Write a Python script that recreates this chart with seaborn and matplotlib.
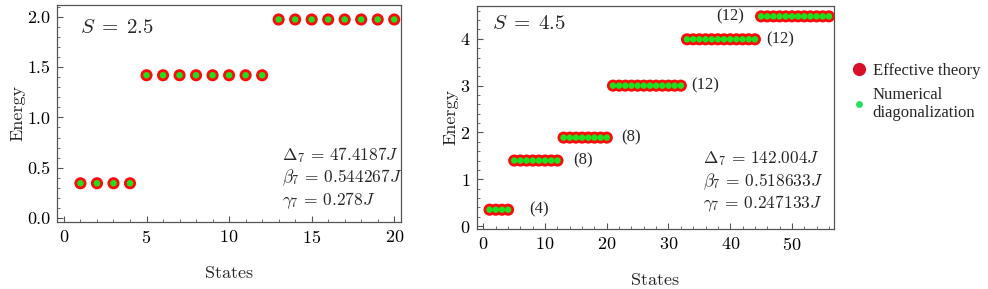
import numpy as np
import pandas as pd
import seaborn as sns
import matplotlib
matplotlib.use("Agg")
import matplotlib.pyplot as plt
from matplotlib.ticker import MultipleLocator, FormatStrFormatter
from matplotlib.lines import Line2D

# ---------------- data ----------------
# S = 2.5 : degeneracies and energy levels
levels_s25 = [0.345, 1.42, 1.975]
degen_s25 = [4, 8, 8]
# S = 4.5
levels_s45 = [0.35, 1.40, 1.89, 3.0, 3.99, 4.48]
degen_s45 = [4, 8, 8, 12, 12, 12]
deg_labels_s45 = ["(4)", "(8)", "(8)", "(12)", "(12)", "(12)"]
deg_label_x = [9.1, 16.2, 24.0, 35.9, 48.1, 40.0]

params_s25 = [r"$\Delta_7 \,=\, 47.4187J$", r"$\beta_7 \,=\, 0.544267J$", r"$\gamma_7 \,=\, 0.278J$"]
params_s45 = [r"$\Delta_7 \,=\, 142.004J$", r"$\beta_7 \,=\, 0.518633J$", r"$\gamma_7 \,=\, 0.247133J$"]
legend_labels = ["Effective theory", "Numerical\ndiagonalization"]


def make_df(levels, degen):
    energy = np.repeat(levels, degen)
    states = np.arange(1, len(energy) + 1)
    return pd.DataFrame({"States": states, "Energy": energy})


df25 = make_df(levels_s25, degen_s25)
df45 = make_df(levels_s45, degen_s45)

# ---------------- style ----------------
sns.set_style("ticks")
plt.rcParams["font.family"] = ["cmr10", "DejaVu Serif"]
plt.rcParams["mathtext.fontset"] = "cm"
plt.rcParams["axes.formatter.use_mathtext"] = True
plt.rcParams["axes.unicode_minus"] = False

RED = "#FF0A0A"
GREEN = "#1EE01E"
SPINE = "#555555"
FS = 13

fig = plt.figure(figsize=(9.88, 2.89), dpi=100)
ax1 = fig.add_axes([0.0577, 0.232, 0.348, 0.751])
ax2 = fig.add_axes([0.483, 0.208, 0.361, 0.771])


def draw(ax, df, xpad):
    sns.scatterplot(data=df, x="States", y="Energy", ax=ax, s=76, color=RED,
                    edgecolor="none", linewidth=0, legend=False, zorder=2)
    sns.scatterplot(data=df, x="States", y="Energy", ax=ax, s=22, color=GREEN,
                    edgecolor="none", linewidth=0, legend=False, zorder=3)
    for sp in ax.spines.values():
        sp.set_visible(True)
        sp.set_color(SPINE)
        sp.set_linewidth(0.9)
    ax.tick_params(which="both", direction="in", colors=SPINE, labelcolor="black",
                   labelsize=FS, top=False, right=False)
    ax.tick_params(which="major", length=4, width=0.8, pad=5)
    ax.tick_params(which="minor", length=2.2, width=0.6)
    ax.set_xlabel("States", fontsize=FS, labelpad=xpad)
    ax.set_ylabel("Energy", fontsize=FS, labelpad=1)


draw(ax1, df25, 14)
ax1.set_xlim(-0.42, 20.4)
ax1.set_ylim(-0.04, 2.12)
ax1.xaxis.set_major_locator(MultipleLocator(5))
ax1.xaxis.set_minor_locator(MultipleLocator(1))
ax1.yaxis.set_major_locator(MultipleLocator(0.5))
ax1.yaxis.set_minor_locator(MultipleLocator(0.1))
ax1.yaxis.set_major_formatter(FormatStrFormatter("%.1f"))
ax1.text(0.067, 0.894, r"$S\;=\;2.5$", transform=ax1.transAxes, fontsize=15,
         va="center", ha="left")
for txt, yy in zip(params_s25, [0.309, 0.203, 0.097]):
    ax1.text(0.654, yy, txt, transform=ax1.transAxes, fontsize=12.5,
             va="center", ha="left")

draw(ax2, df45, 14)
ax2.set_xlim(-1.0, 56.8)
ax2.set_ylim(-0.06, 4.7)
ax2.xaxis.set_major_locator(MultipleLocator(10))
ax2.xaxis.set_minor_locator(MultipleLocator(2))
ax2.yaxis.set_major_locator(MultipleLocator(1))
ax2.yaxis.set_minor_locator(MultipleLocator(0.2))
ax2.text(0.042, 0.919, r"$S\;=\;4.5$", transform=ax2.transAxes, fontsize=15,
         va="center", ha="left")
for txt, yy in zip(params_s45, [0.314, 0.211, 0.112]):
    ax2.text(0.633, yy, txt, transform=ax2.transAxes, fontsize=12.5,
             va="center", ha="left")
for lab, lx, ly in zip(deg_labels_s45, deg_label_x, levels_s45):
    ax2.text(lx, ly, lab, fontsize=12, va="center", ha="center",
             family=["Liberation Serif"])

handles = [
    Line2D([], [], linestyle="none", marker="o", markersize=9.5,
           markerfacecolor="#D6102A", markeredgecolor="none"),
    Line2D([], [], linestyle="none", marker="o", markersize=5,
           markerfacecolor="#28E060", markeredgecolor="none"),
]
fig.legend(handles, legend_labels, loc="upper left", bbox_to_anchor=(0.853, 0.81),
           frameon=False, prop={"family": "Liberation Serif", "size": 12},
           handletextpad=0.3, handlelength=1.0, labelspacing=0.45, borderpad=0)

fig.savefig("out.png", dpi=100)
